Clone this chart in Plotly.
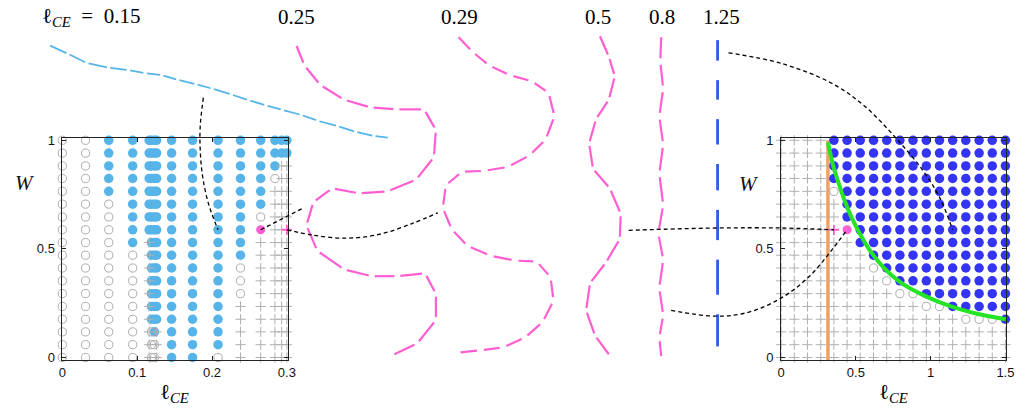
import math
import plotly.graph_objects as go

FIG_W, FIG_H = 1029, 409

# ---------------------------------------------------------------------------
# Phase-diagram data
# ---------------------------------------------------------------------------
# W values of the scan, top row first
W_ROWS = [1.0, 0.941, 0.882, 0.824, 0.765, 0.706, 0.647, 0.588, 0.529,
          0.471, 0.412, 0.353, 0.294, 0.235, 0.176, 0.118, 0.059, 0.0]

# state codes: b = stable (filled), o = marginal (open circle),
#              p = unstable (+), m = highlighted dot, q = highlighted +
LEFT_ELL = [0.000, 0.031, 0.062, 0.094, 0.116, 0.119, 0.123, 0.126,
            0.146, 0.174, 0.208, 0.238, 0.265, 0.284, 0.293, 0.300]
LEFT_STATE = [
    "oooooooooooooooooo",
    "oooooooooooooooooo",
    "bbbbbooooooooooooo",
    "bbbbbbbbbooooooooo",
    "bbbbbbbbpppppppppp",
    "bbbbbbbbbbbbbbbooo",
    "bbbbbbbbbbbbbbbboo",
    "bbbbbbbbbbbbbbbppp",
    "bbbbbbbbbbbbbbbbbb",
    "bbbbbbbbbbbbbbbbbb",
    "bbbbbbbbbbbbbbbbbo",
    "bbbbbbbbbboooppppp",
    "bbbbbbompppppppppp",
    "bbbopppppppppppppp",
    "bbpppppppppppppppp",
    "bbpppppqpppppppppp",
]

RIGHT_ELL = [0.0, 0.088, 0.176, 0.265, 0.353, 0.441, 0.529, 0.618, 0.706,
             0.794, 0.882, 0.971, 1.059, 1.147, 1.235, 1.324, 1.412, 1.5]
# one string per W row (top row first), one character per ℓ_CE column
RIGHT_STATE = [
    "ppppbbbbbbbbbbbbbb",
    "ppppbbbbbbbbbbbbbb",
    "ppppbbbbbbbbbbbbbb",
    "ppppbbbbbbbbbbbbbb",
    "ppppobbbbbbbbbbbbb",
    "pppppbbbbbbbbbbbbb",
    "pppppbbbbbbbbbbbbb",
    "ppppqmbbbbbbbbbbbb",
    "ppppppbbbbbbbbbbbb",
    "pppppppbbbbbbbbbbb",
    "pppppppobbbbbbbbbb",
    "ppppppppobbbbbbbbb",
    "pppppppppoobbbbbbb",
    "pppppppppppoobbbbb",
    "ppppppppppppppooob",
    "pppppppppppppppppp",
    "pppppppppppppppppp",
    "pppppppppppppppppp",
]

# boundary curve and critical length in the right panel
GREEN_ELL = [0.313, 0.346, 0.379, 0.423, 0.467, 0.533, 0.599, 0.687,
             0.798, 0.930, 1.062, 1.194, 1.326, 1.502]
GREEN_W = [0.99, 0.889, 0.814, 0.725, 0.651, 0.562, 0.488, 0.413,
           0.346, 0.294, 0.254, 0.223, 0.199, 0.176]
ELL_CRIT = 0.313

# ---------------------------------------------------------------------------
# Filament configurations (node positions, figure pixels)
# ---------------------------------------------------------------------------
SHAPE_015_X = [46.7, 64.7, 83.8, 105.8, 125.8, 142.8, 159.7, 175.8, 194.2, 210.8,
               230.0, 247.5, 265.0, 281.7, 300.8, 317.5, 337.5, 355.8, 374.2, 388.3]
SHAPE_015_Y = [41.7, 50.0, 59.5, 64.2, 66.8, 69.8, 71.8, 76.7, 81.2, 85.8,
               91.7, 97.5, 103.0, 107.5, 112.7, 118.7, 124.2, 130.0, 134.2, 136.0]

SHAPE_025_X = [296, 304, 320, 344, 371, 397, 425, 437, 435, 417, 388, 359, 332,
               313, 306, 317, 344, 372, 398, 426, 437, 437, 418, 395]
SHAPE_025_Y = [42, 62, 82, 97, 105, 107, 107, 128, 156, 179, 191, 193, 188,
               202, 226, 252, 271, 278, 278, 275, 296, 323, 347, 358]

SHAPE_029_X = [460, 474, 491, 512, 534, 551, 557, 548, 532, 510, 486, 463, 447,
               444, 453, 469, 492, 517, 539, 553, 556, 545, 527, 505, 482, 462]
SHAPE_029_Y = [33, 48, 62, 72, 78, 90, 114, 138, 154, 166, 170, 171, 185,
               208, 230, 247, 257, 262, 263, 279, 303, 325, 341, 351, 354, 356]

SHAPE_05_X = [603, 612, 618, 612, 599, 592, 596, 613, 624, 623, 609, 593, 589, 598, 612]
SHAPE_05_Y = [32, 53, 73, 97, 117, 142, 168, 188, 214, 240, 264, 285, 313, 339, 358]

SHAPE_08_X = [665, 664, 667, 663, 667, 663, 667, 662, 667, 663, 667, 663, 665]
SHAPE_08_Y = [33, 58, 86, 114, 143, 173, 205, 234, 261, 290, 318, 341, 360]

SHAPE_125_X = [722, 722, 722, 722, 722, 722, 722, 722]
SHAPE_125_Y = [36, 67, 107, 153, 200, 251, 307, 350]

NBSP = "\u00a0"
TOP_LABELS = ["ℓ<sub><i>CE</i></sub>" + NBSP * 2 + "=" + NBSP * 2 + "0.15",
              "0.25", "0.29", "0.5", "0.8", "1.25"]
TOP_LABEL_X = [88, 296, 461, 601, 666, 726]

# ---------------------------------------------------------------------------
# Panel geometry (pixels) and axis ranges
# ---------------------------------------------------------------------------
LEFT_BOX = (59, 287, 136, 364)      # x0, x1, y_top, y_bottom
RIGHT_BOX = (786, 1014, 136, 364)
LEFT_XR, LEFT_YR = [0.0, 0.301], [-0.012, 1.012]
RIGHT_XR, RIGHT_YR = [-0.002, 1.505], [-0.012, 1.012]


def to_px(box, xr, yr, x, y):
    x0, x1, yt, yb = box
    px = x0 + (x - xr[0]) / (xr[1] - xr[0]) * (x1 - x0)
    py = yb - (y - yr[0]) / (yr[1] - yr[0]) * (yb - yt)
    return px, py


def left_px(x, y):
    return to_px(LEFT_BOX, LEFT_XR, LEFT_YR, x, y)


def right_px(x, y):
    return to_px(RIGHT_BOX, RIGHT_XR, RIGHT_YR, x, y)


def chain(xs, ys, gap):
    """Rod segments between consecutive nodes, shortened at inner joints."""
    X, Y = [], []
    n = len(xs)
    for i in range(n - 1):
        xa, ya, xb, yb = xs[i], ys[i], xs[i + 1], ys[i + 1]
        d = math.hypot(xb - xa, yb - ya) or 1.0
        ux, uy = (xb - xa) / d, (yb - ya) / d
        s = gap / 2 if i > 0 else 0
        e = gap / 2 if i + 1 < n - 1 else 0
        X += [xa + ux * s, xb - ux * e, None]
        Y += [ya + uy * s, yb - uy * e, None]
    return X, Y


# highlighted grid points that the connectors attach to
W_SEL = W_ROWS[7]
P_LEFT_BLUE = left_px(LEFT_ELL[10], W_SEL)
P_LEFT_DOT = left_px(LEFT_ELL[12], W_SEL)
P_LEFT_PLUS = left_px(LEFT_ELL[15], W_SEL)
P_RIGHT_PLUS = right_px(RIGHT_ELL[4], W_SEL)
P_RIGHT_DOT = right_px(RIGHT_ELL[5], W_SEL)
P_RIGHT_BLUE = right_px(RIGHT_ELL[13], W_SEL)

CONNECTORS = [
    [(201.7, 95), (198.5, 125), (198.6, 150), (201, 176), (207, 204), P_LEFT_BLUE],
    [P_LEFT_DOT, (303, 208)],
    [P_LEFT_PLUS, (313, 236), (347, 239), (380, 235), (413, 224), (439, 213)],
    [(632, 231), (720, 228.6), (787, 228.6), P_RIGHT_PLUS],
    [(675, 313), (720, 319), (753, 315), (787, 300), (815, 278), (840, 248), P_RIGHT_DOT],
    [(733, 49), (787, 60), (837, 80), (870, 103), (903, 137), (930, 170), (947, 198), P_RIGHT_BLUE],
]

# ---------------------------------------------------------------------------
# Colours / styles
# ---------------------------------------------------------------------------
SKY = "#56B4E9"
ROYAL = "#3434f4"
PINK = "#ff5fd2"
CIRC = "#acacac"
PLUS = "#b0b0b0"
GREEN = "#25e425"
ORANGE = "#eba267"
BLUE125 = "#2f5de4"
SERIF = "Liberation Serif, DejaVu Serif, serif"
SANS = "Liberation Sans, Arial, sans-serif"

fig = go.Figure()


def add_points(xs, ys, kind, axis, blue):
    if not xs:
        return
    common = dict(x=xs, y=ys, mode="markers", xaxis=axis[0], yaxis=axis[1],
                  cliponaxis=False, hoverinfo="skip", showlegend=False)
    if kind == "b":
        m = dict(symbol="circle", size=9.5, color=blue, line=dict(width=0))
    elif kind == "o":
        m = dict(symbol="circle-open", size=8.2, color=CIRC, line=dict(width=1, color=CIRC))
    elif kind == "p":
        m = dict(symbol="cross-thin", size=7.3, color=PLUS, line=dict(width=1, color=PLUS))
    elif kind == "m":
        m = dict(symbol="circle", size=9, color=PINK, line=dict(width=0))
    else:
        m = dict(symbol="cross-thin", size=7.3, color=PINK, line=dict(width=1.8, color=PINK))
    fig.add_trace(go.Scatter(marker=m, **common))


# left panel points
for kind in "bopmq":
    xs, ys = [], []
    for ell, col in zip(LEFT_ELL, LEFT_STATE):
        for r, c in enumerate(col):
            if c == kind:
                xs.append(ell)
                ys.append(W_ROWS[r])
    add_points(xs, ys, kind, ("x", "y"), SKY)

# right panel: critical length, points, boundary curve
fig.add_trace(go.Scatter(x=[ELL_CRIT, ELL_CRIT], y=[RIGHT_YR[0], 1.0], mode="lines",
                         line=dict(color=ORANGE, width=3.5), xaxis="x2", yaxis="y2",
                         hoverinfo="skip", showlegend=False))
for kind in "bopmq":
    xs, ys = [], []
    for r, row in enumerate(RIGHT_STATE):
        for k, c in enumerate(row):
            if c == kind:
                xs.append(RIGHT_ELL[k])
                ys.append(W_ROWS[r])
    add_points(xs, ys, kind, ("x2", "y2"), ROYAL)
fig.add_trace(go.Scatter(x=GREEN_ELL, y=GREEN_W, mode="lines", line=dict(color=GREEN, width=4, shape="spline"),
                         xaxis="x2", yaxis="y2", cliponaxis=False, hoverinfo="skip", showlegend=False))

# filament configurations
for xs, ys, color, width, gap in [
    (SHAPE_015_X, SHAPE_015_Y, SKY, 1.8, 3.5),
    (SHAPE_025_X, SHAPE_025_Y, PINK, 2.2, 6),
    (SHAPE_029_X, SHAPE_029_Y, PINK, 2.2, 7),
    (SHAPE_05_X, SHAPE_05_Y, PINK, 2.2, 5),
    (SHAPE_08_X, SHAPE_08_Y, PINK, 2.2, 7),
    (SHAPE_125_X, SHAPE_125_Y, BLUE125, 2.8, 20),
]:
    X, Y = chain(xs, ys, gap)
    fig.add_trace(go.Scatter(x=X, y=Y, mode="lines", line=dict(color=color, width=width),
                             xaxis="x3", yaxis="y3", hoverinfo="skip", showlegend=False))

# connectors
for pts in CONNECTORS:
    fig.add_trace(go.Scatter(x=[p[0] for p in pts], y=[p[1] for p in pts], mode="lines",
                             line=dict(color="black", width=1.3, dash="4px,3px", shape="spline"),
                             xaxis="x3", yaxis="y3", hoverinfo="skip", showlegend=False))


def panel_axes(box, xr, yr, xticks, yticks):
    x0, x1, yt, yb = box
    common = dict(showline=True, linecolor="#222", linewidth=1.3, mirror="ticks",
                  ticks="inside", ticklen=4, tickwidth=1, tickcolor="#222",
                  showgrid=False, zeroline=False, fixedrange=True,
                  tickfont=dict(family=SANS, size=13, color="#111"))
    xa = dict(domain=[x0 / FIG_W, x1 / FIG_W], range=xr, tickvals=xticks,
              ticktext=[("%g" % v) for v in xticks], **common)
    ya = dict(domain=[1 - yb / FIG_H, 1 - yt / FIG_H], range=yr, tickvals=yticks,
              ticktext=[("%g" % v) + NBSP for v in yticks], **common)
    return xa, ya


xa1, ya1 = panel_axes(LEFT_BOX, LEFT_XR, LEFT_YR, [0, 0.1, 0.2, 0.3], [0, 0.5, 1])
xa2, ya2 = panel_axes(RIGHT_BOX, RIGHT_XR, RIGHT_YR, [0, 0.5, 1, 1.5], [0, 0.5, 1])
ya2["anchor"] = "x2"
xa2["anchor"] = "y2"

annotations = []
for txt, x in zip(TOP_LABELS, TOP_LABEL_X):
    annotations.append(dict(x=x, y=12, text=txt, font=dict(family=SERIF, size=21, color="black")))
for x, y in [(21, 182), (754, 183)]:
    annotations.append(dict(x=x, y=y, text="<i>W</i>", font=dict(family=SERIF, size=21, color="#111")))
for x, y in [(173, 398), (900, 398)]:
    annotations.append(dict(x=x, y=y, text="ℓ<sub><i>CE</i></sub>", font=dict(family=SERIF, size=21, color="black")))
for a in annotations:
    a.update(xref="x3", yref="y3", showarrow=False, xanchor="center", yanchor="middle")

fig.update_layout(
    width=FIG_W, height=FIG_H, autosize=False,
    margin=dict(l=0, r=0, t=0, b=0),
    paper_bgcolor="white", plot_bgcolor="rgba(0,0,0,0)",
    xaxis=xa1, yaxis=ya1, xaxis2=xa2, yaxis2=ya2,
    xaxis3=dict(domain=[0, 1], range=[0, FIG_W], visible=False, fixedrange=True, anchor="y3"),
    yaxis3=dict(domain=[0, 1], range=[FIG_H, 0], visible=False, fixedrange=True, anchor="x3"),
    annotations=annotations,
    showlegend=False,
)

fig.write_html("out.html")
